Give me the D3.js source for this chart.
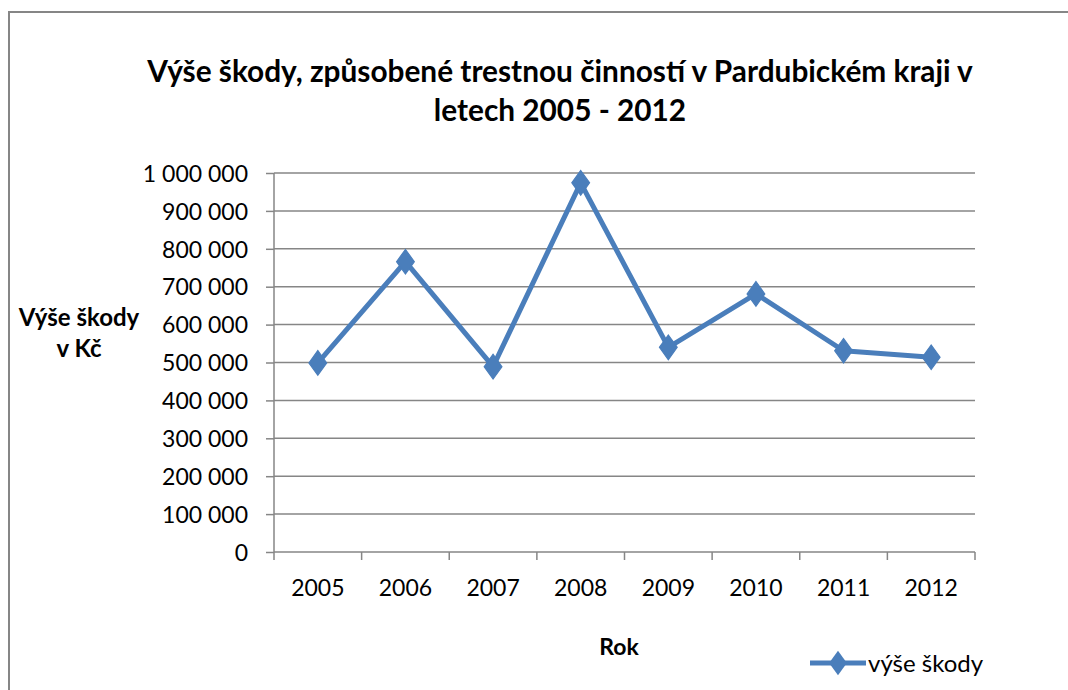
<!DOCTYPE html>
<html>
<head>
<meta charset="utf-8">
<script src="https://cdn.jsdelivr.net/npm/d3@7"></script>
<style>
  body { margin: 0; background: #fff; }
  text { font-family: Lato, "Open Sans", sans-serif; fill: #000; }
</style>
</head>
<body>
<script>
// data
var years = ['2005', '2006', '2007', '2008', '2009', '2010', '2011', '2012'];
var damage = [499000, 766000, 489000, 974000, 540000, 681000, 531000, 514000];
var yTicks = [0, 100000, 200000, 300000, 400000, 500000, 600000, 700000, 800000, 900000, 1000000];
var titleLines = ['Výše škody, způsobené trestnou činností v Pardubickém kraji v', 'letech 2005 - 2012'];
var yLabelLines = ['Výše škody', 'v Kč'];
var xLabel = 'Rok';
var seriesName = 'výše škody';

var width = 1068;
var height = 690;
// plot box (note: "top" is taken by window.top, so prefixed names)
var plotLeft = 274, plotRight = 975, plotTop = 173, plotBottom = 552;
var blue = '#4a7ebb';
var grey = '#868686';

var svg = d3.select('body').append('svg').attr('width', width).attr('height', height);

// outer chart border (runs off the right and bottom of the picture)
svg.append('rect')
  .attr('x', 9).attr('y', 12)
  .attr('width', 1200).attr('height', 900)
  .attr('fill', 'none').attr('stroke', grey).attr('stroke-width', 2);

var x = d3.scaleBand().domain(years).range([plotLeft, plotRight]);
var y = d3.scaleLinear().domain([0, 1000000]).range([plotBottom, plotTop]);

var cz = d3.formatLocale({decimal: ',', thousands: ' ', grouping: [3], currency: ['', '']});
var fmt = cz.format(',d');

// gridlines
svg.append('g').selectAll('line')
  .data(yTicks.filter(function(d){ return d > 0; }))
  .enter().append('line')
  .attr('x1', plotLeft).attr('x2', plotRight)
  .attr('y1', function(d){ return y(d); })
  .attr('y2', function(d){ return y(d); })
  .attr('stroke', grey).attr('stroke-width', 1.5);

// y axis
var yAxis = svg.append('g')
  .attr('transform', 'translate(' + plotLeft + ',0)')
  .call(d3.axisLeft(y).tickValues(yTicks).tickFormat(fmt).tickSize(8).tickPadding(18));
yAxis.select('.domain').attr('stroke', grey).attr('stroke-width', 1.5).attr('d', 'M0,' + plotTop + 'V' + plotBottom);
yAxis.selectAll('.tick line').attr('stroke', grey).attr('stroke-width', 1.5);
yAxis.selectAll('.tick text')
  .style('font-family', 'Lato').attr('font-size', 23).attr('fill', '#000').attr('dy', '0.36em');

// x axis
var xAxis = svg.append('g')
  .attr('transform', 'translate(0,' + plotBottom + ')')
  .call(d3.axisBottom(x).tickSize(0).tickPadding(0));
xAxis.select('.domain').attr('stroke', grey).attr('stroke-width', 1.5).attr('d', 'M' + plotLeft + ',0H' + plotRight);
xAxis.selectAll('.tick text')
  .style('font-family', 'Lato').attr('font-size', 23).attr('fill', '#000')
  .attr('y', 44).attr('dy', 0);
// tick marks between categories
var edges = years.map(function(d){ return x(d); }).concat([plotRight]);
xAxis.selectAll('line.sep')
  .data(edges).enter().append('line').attr('class', 'sep')
  .attr('x1', function(d){ return d; }).attr('x2', function(d){ return d; })
  .attr('y1', 0).attr('y2', 8)
  .attr('stroke', grey).attr('stroke-width', 1.5);

// series line
var cx = function(d, i){ return x(years[i]) + x.bandwidth() / 2; };
var line = d3.line().x(cx).y(function(d){ return y(d); });
svg.append('path')
  .datum(damage)
  .attr('d', line)
  .attr('fill', 'none').attr('stroke', blue).attr('stroke-width', 5)
  .attr('stroke-linejoin', 'round');

var diamond = d3.symbol().type(d3.symbolDiamond).size(175);
svg.append('g').selectAll('path')
  .data(damage).enter().append('path')
  .attr('d', diamond)
  .attr('transform', function(d, i){ return 'translate(' + cx(d, i) + ',' + y(d) + ') scale(1.25,1)'; })
  .attr('fill', blue).attr('stroke', blue).attr('stroke-width', 1);

// title, fitted to the width of the original
var t0 = svg.append('text')
  .attr('x', 560).attr('y', 82)
  .attr('text-anchor', 'middle')
  .attr('font-weight', 'bold').attr('font-size', 27)
  .text(titleLines[0]);
var titleSize = 27 * 826 / t0.node().getComputedTextLength();
t0.attr('font-size', titleSize);
svg.append('text')
  .attr('x', 560).attr('y', 121)
  .attr('text-anchor', 'middle')
  .attr('font-weight', 'bold').attr('font-size', titleSize)
  .text(titleLines[1]);

// axis titles
svg.append('text')
  .attr('text-anchor', 'middle')
  .attr('font-weight', 'bold').attr('font-size', 24)
  .selectAll('tspan').data(yLabelLines).enter().append('tspan')
  .attr('x', 79)
  .attr('y', function(d, i){ return 326 + i * 31; })
  .text(function(d){ return d; });

svg.append('text')
  .attr('x', 619).attr('y', 655)
  .attr('text-anchor', 'middle')
  .attr('font-weight', 'bold').attr('font-size', 23)
  .text(xLabel);

// legend
var lg = svg.append('g').attr('transform', 'translate(810,663)');
lg.append('line').attr('x1', 0).attr('x2', 56).attr('y1', 0).attr('y2', 0)
  .attr('stroke', blue).attr('stroke-width', 5);
lg.append('path').attr('d', diamond)
  .attr('transform', 'translate(28,0) scale(1.25,1)').attr('fill', blue);
lg.append('text').attr('x', 58).attr('y', 9)
  .attr('font-size', 24)
  .text(seriesName);
</script>
</body>
</html>
